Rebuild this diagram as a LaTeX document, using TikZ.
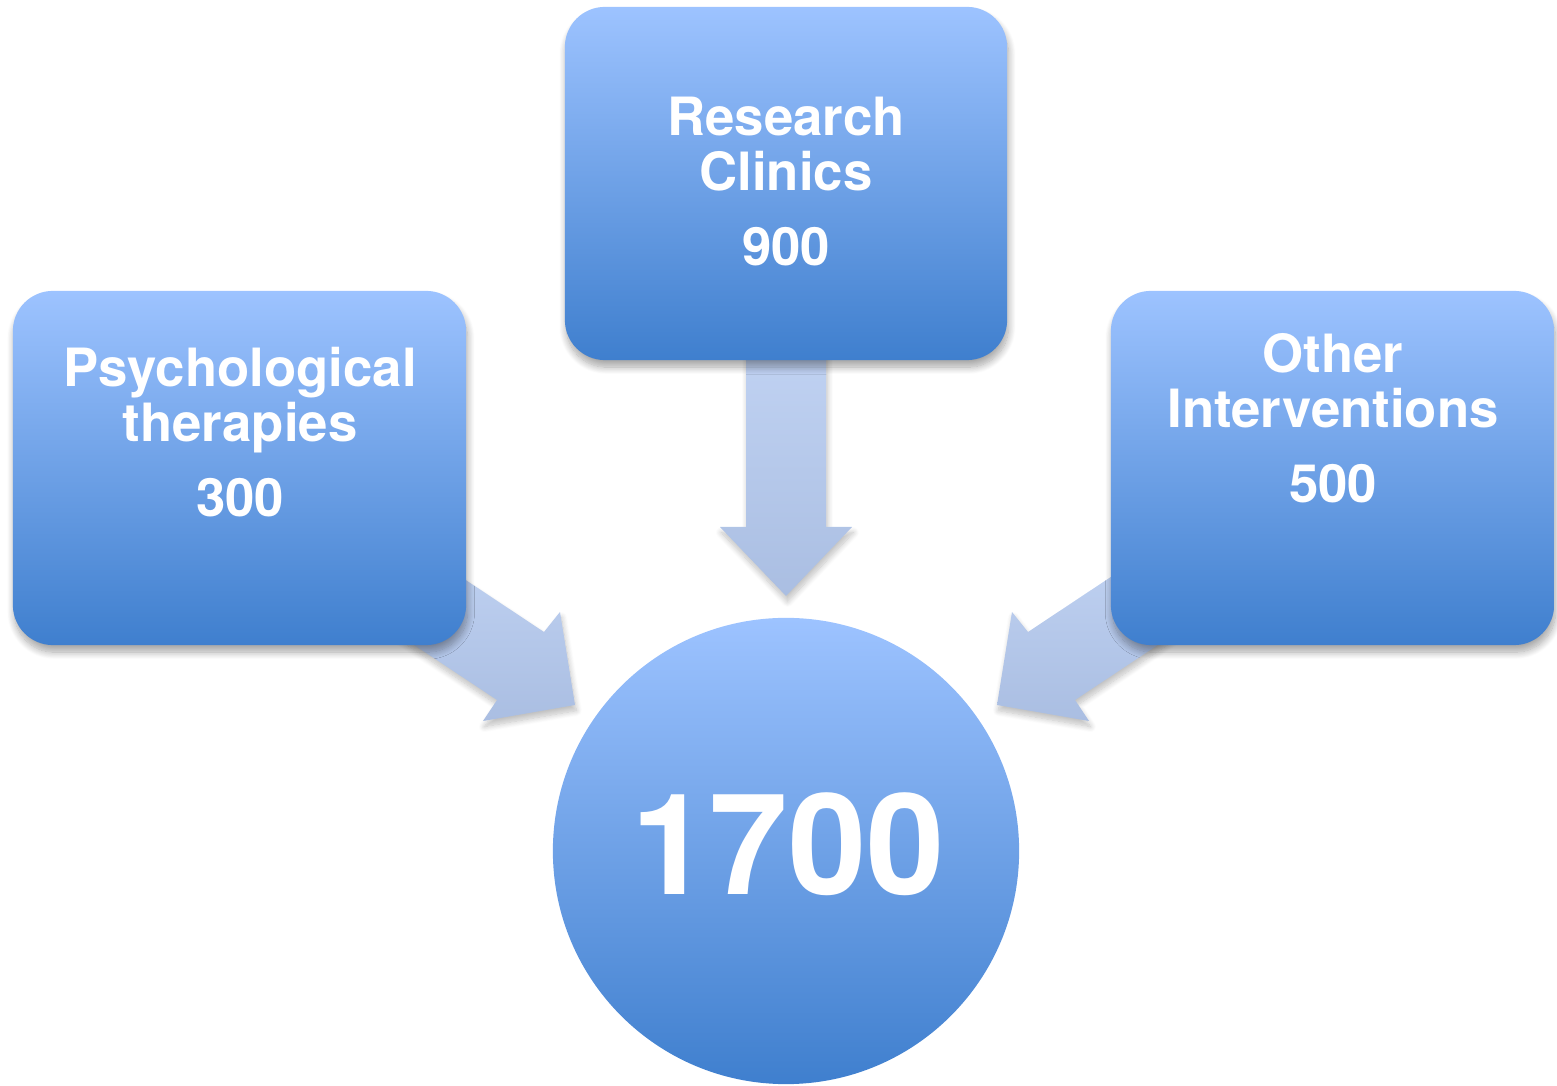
\documentclass[tikz,border=0pt]{standalone}
\usepackage{fontspec}
\setmainfont{TeX Gyre Heros}
\usetikzlibrary{shadows.blur}
\definecolor{boxtop}{RGB}{157,195,255}
\definecolor{boxbottom}{RGB}{63,127,206}
\definecolor{arrowtop}{RGB}{192,210,242}
\definecolor{arrowbottom}{RGB}{170,190,226}

\begin{document}
\begin{tikzpicture}[x=0.01cm, y=-0.01cm,
    topicbox/.style={rounded corners=0.4cm, inner sep=0pt, top color=boxtop, bottom color=boxbottom,
        blur shadow={shadow xshift=0.4pt, shadow yshift=-2pt, shadow blur radius=2pt, shadow blur steps=12, shadow opacity=35}},
    hub/.style={circle, inner sep=0pt, top color=boxtop, bottom color=boxbottom},
    blockarrow/.style={top color=arrowtop, bottom color=arrowbottom,
        blur shadow={shadow xshift=0.4pt, shadow yshift=-1.6pt, shadow blur radius=1.6pt, shadow blur steps=10, shadow opacity=25}},
    labeltext/.style={text=white, align=center, inner sep=0pt, font=\fontsize{15}{15.6}\selectfont\bfseries}]
    \useasboundingbox (0,0) rectangle (1557,1086);

    % Block arrows (behind the boxes)
    \path[blockarrow] (746,350) -- (826,350) -- (826,527) -- (852,527) -- (786,596)
        -- (720,527) -- (746,527) -- cycle;
    \path[blockarrow] (419,549) -- (544,632) -- (560,612) -- (575,705) -- (483,721)
        -- (497,700) -- (372,617) -- cycle;
    \path[blockarrow] (1153,549) -- (1028,632) -- (1012,612) -- (997,705) -- (1089,721)
        -- (1075,700) -- (1200,617) -- cycle;

    % Boxes
    \node[topicbox, minimum width=4.53cm, minimum height=3.54cm] (psych) at (239.5,468) {};
    \node[topicbox, minimum width=4.42cm, minimum height=3.53cm] (research) at (786,183.5) {};
    \node[topicbox, minimum width=4.43cm, minimum height=3.54cm] (other) at (1332.5,468) {};

    \node[labeltext, anchor=base] (psych-txt) at (240,517) {Psychological\\therapies\\[6pt]300};
    \node[labeltext, anchor=base] (research-txt) at (786,266) {Research\\Clinics\\[6pt]900};
    \node[labeltext, anchor=base] (other-txt) at (1333,503) {Other\\Interventions\\[6pt]500};

    % Total
    \node[hub, minimum size=4.66cm] (total) at (786,851) {};
    \node[text=white, inner sep=0pt, anchor=base, font=\fontsize{40}{40}\selectfont\bfseries] (total-txt) at (788,895) {1700};
\end{tikzpicture}
\end{document}
